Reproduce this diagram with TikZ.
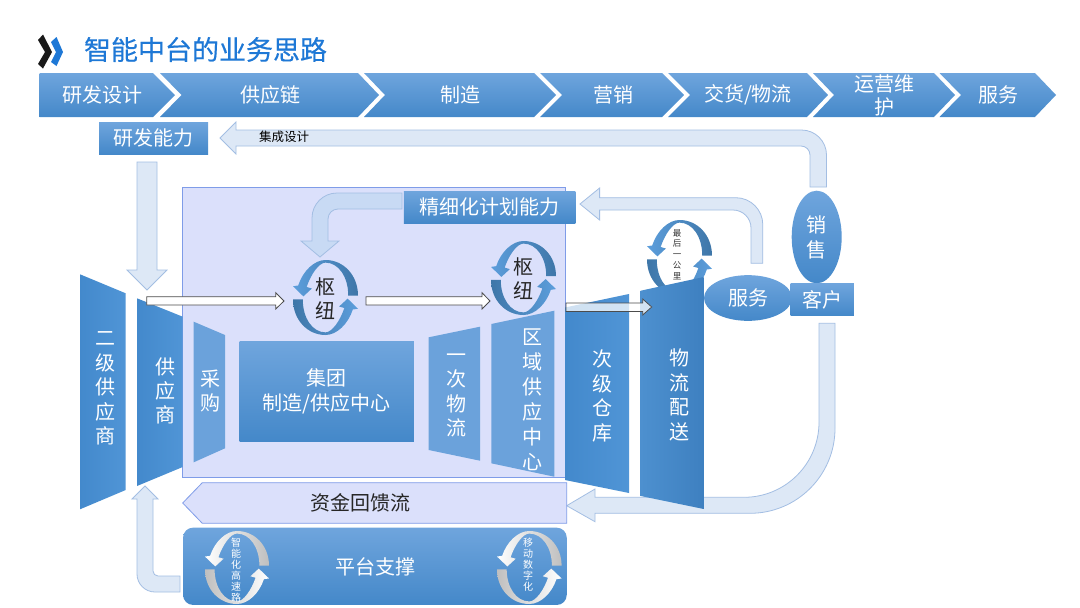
\documentclass[tikz,border=0pt]{standalone}
\usepackage{fontspec}
\setmainfont{Noto Sans CJK SC}
\newfontfamily\titlefont[FakeBold=0.35]{Noto Sans CJK SC}
\usetikzlibrary{shapes.geometric, positioning}

\definecolor{bandtop}{HTML}{6FA5DD}
\definecolor{bandbot}{HTML}{4488C9}
\definecolor{trapleft}{HTML}{4389CC}
\definecolor{trapright}{HTML}{5095D6}
\definecolor{darkleft}{HTML}{4D90CF}
\definecolor{darkright}{HTML}{3E80C0}
\definecolor{panelfill}{HTML}{DBE0FB}
\definecolor{panelline}{HTML}{7F9CE8}
\definecolor{flowfill}{HTML}{DDE8F6}
\definecolor{flowline}{HTML}{A3BEE3}
\definecolor{planfill}{HTML}{C8DAF4}
\definecolor{ringdark}{HTML}{3E76A8}
\definecolor{ringlight}{HTML}{5C9EDC}
\definecolor{titleblue}{HTML}{1E78D6}

% two arcs chasing each other: cx, cy, rx, ry, tail colour, head colour
\newcommand{\hubring}[6]{%
  \begin{scope}[shift={(#1,#2)},x=#3pt,y=#4pt]
    \path[left color=#6,right color=#5]
      (1,0.05) .. controls (1,0.6) and (0.55,1) .. (0,1)
      .. controls (-0.35,1) and (-0.7,0.7) .. (-0.84,0.32)
      -- (-1,0.3) -- (-0.68,0.03) -- (-0.42,0.24) -- (-0.58,0.28)
      .. controls (-0.45,0.62) and (-0.2,0.93) .. (0,0.93)
      .. controls (0.4,0.93) and (0.7,0.55) .. (0.7,0.05) -- cycle;
    \path[left color=#5,right color=#6]
      (-1,-0.05) .. controls (-1,-0.6) and (-0.55,-1) .. (0,-1)
      .. controls (0.35,-1) and (0.7,-0.7) .. (0.84,-0.32)
      -- (1,-0.3) -- (0.68,-0.03) -- (0.42,-0.24) -- (0.58,-0.28)
      .. controls (0.45,-0.62) and (0.2,-0.93) .. (0,-0.93)
      .. controls (-0.4,-0.93) and (-0.7,-0.55) .. (-0.7,-0.05) -- cycle;
  \end{scope}}

\begin{document}
\begin{tikzpicture}[
  x=1pt, y=-1pt,
  every node/.style={inner sep=0pt, outer sep=0pt},
  bandshape/.style={top color=bandtop, bottom color=bandbot},
  whitetext/.style={text=white, font=\fontsize{20}{24.5}\selectfont, align=center},
  blacktext/.style={text=black!85, font=\fontsize{20}{24}\selectfont, align=center},
  boxnode/.style={rectangle, top color=bandtop, bottom color=bandbot, whitetext},
  ovalnode/.style={ellipse, top color=bandtop, bottom color=bandbot, whitetext},
  trapdark/.style={left color=darkleft, right color=darkright},
  trapmid/.style={left color=trapleft, right color=trapright},
  traplight/.style={fill=bandtop!90!bandbot},
  flowarrow/.style={fill=flowfill, draw=flowline, line width=0.8pt},
  hollowarrow/.style={fill=white, draw=black!70, line width=0.8pt}
]
\useasboundingbox (0,0) rectangle (1080,608);
\fill[white] (0,0) rectangle (1080,608);

% title
\fill[black!90] (38,40) -- (43,34.5) -- (52,52) -- (43,68.5) -- (38,64) -- (45,52) -- cycle;
\fill[titleblue] (51,42) -- (56.5,37) -- (63,52) -- (56.5,66) -- (51,62) -- (56,52) -- cycle;
\node[anchor=west, text=titleblue, font=\titlefont\fontsize{27}{30}\selectfont] (title) at (84,49.5) {智能中台的业务思路};

% value chain band
\path[bandshape] (39.6,73) -- (153,73) -- (175,95) -- (153,117) -- (39.6,117) -- cycle;
\foreach \xa/\xb/\xc/\xd in {160/181.5/358/379, 364/385/534/556, 540/562/662/684,
    668/690/807/828, 813/834/934/955, 939.5/961/1035/1056}
  \path[bandshape] (\xa,73) -- (\xc,73) -- (\xd,95) -- (\xc,117) -- (\xa,117) -- (\xb,95) -- cycle;

\node[whitetext] (yanfa)   at (102,95)  {研发设计};
\node[whitetext] (gongying) at (270,95) {供应链};
\node[whitetext] (zhizao)  at (460,95)  {制造};
\node[whitetext] (yingxiao) at (613,95) {营销};
\node[whitetext] (jiaohuo) at (748,95)  {交货/物流};
\node[whitetext, font=\fontsize{20}{23}\selectfont] (yunying) at (884,95) {运营维\\护};
\node[whitetext] (fuwuband) at (998,95) {服务};

% wide flow arrows behind the panel
\draw[flowarrow] (220,138) -- (236,122) -- (236,130) [rounded corners=25pt] -- (826.5,130) [sharp corners] -- (826.5,187)
  -- (810,187) [rounded corners=9pt] -- (810,146) [sharp corners] -- (236,146) -- (236,154) -- cycle;
\draw[flowarrow] (137,162) -- (157,162) -- (157,270) -- (167,270) -- (147,290) -- (127,270) -- (137,270) -- cycle;
\draw[flowarrow] (145,486) -- (158,499) -- (153,499) [rounded corners=5pt] -- (153,576) [sharp corners] -- (180,576)
  -- (180,592) [rounded corners=18pt] -- (137,592) [sharp corners] -- (137,499) -- (132,499) -- cycle;

\node[boxnode, minimum width=109pt, minimum height=32pt] (yanfaneng) at (153.5,138) {研发能力};
\node[text=black, font=\fontsize{12.5}{14}\selectfont] (jicheng) at (284,137) {集成设计};

% central panel
\draw[fill=panelfill, draw=panelline, line width=0.8pt] (182.5,187) rectangle (565,477);

\draw[fill=planfill, draw=flowline, line width=0.8pt] (402,193) [rounded corners=25pt] -- (312,193) [sharp corners] -- (312,241)
  -- (301,241) -- (320,257) -- (339,241) -- (328,241) [rounded corners=10pt] -- (328,209) [sharp corners] -- (402,209) -- cycle;
\draw[flowarrow] (580,204) -- (599.6,188) -- (599.6,197.7) [rounded corners=27pt] -- (762.8,197.7) [sharp corners] -- (762.8,263.3)
  -- (751,263.3) [rounded corners=18pt] -- (751,210) [sharp corners] -- (599.6,210) -- (599.6,220) -- cycle;
\draw[flowarrow] (566.7,505.7) -- (595,489) -- (595,497.3) [rounded corners=75pt] -- (819,497.3) [sharp corners] -- (819,323.3)
  -- (835,323.3) [rounded corners=85pt] -- (835,513.3) [sharp corners] -- (595,513.3) -- (595,521.7) -- cycle;

\node[boxnode, minimum width=171.5pt, minimum height=32pt] (jingxi) at (489.7,207) {精细化计划能力};

% rings
\hubring{325.5}{297.5}{32.5}{37.5}{ringdark}{ringlight}
\hubring{523.5}{278}{32.5}{37}{ringdark}{ringlight}
\hubring{679.5}{257.5}{32.5}{37.5}{ringdark}{ringlight}
\node[blacktext] (shuniua) at (325,299) {枢\\纽};
\node[blacktext] (shuniub) at (523,279) {枢\\纽};
\node[text=black!80, align=center, font=\fontsize{8.5}{10.8}\selectfont] (zuihou) at (677,254.5) {最\\后\\一\\公\\里};

% supply chain blocks
\path[trapmid] (80,274.3) -- (125.7,293.3) -- (125.7,490) -- (80,509.3) -- cycle;
\node[whitetext] (erji) at (105.7,388.7) {二\\级\\供\\应\\商};
\path[trapmid] (137,298.3) -- (182.7,316.7) -- (182.7,467) -- (137,486) -- cycle;
\node[whitetext, font=\fontsize{20}{24}\selectfont] (gongyingshang) at (165.7,391) {供\\应\\商};
\path[traplight] (193.7,321.7) -- (225,335) -- (225,448.3) -- (193.7,462.3) -- cycle;
\node[whitetext, font=\fontsize{20}{24}\selectfont] (caigou) at (210,391.5) {采\\购};
\node[boxnode, minimum width=174.3pt, minimum height=99.7pt, font=\fontsize{20}{25}\selectfont] (jituan) at (326.8,391.8) {集团\\制造/供应中心};
\path[traplight] (428.7,337.3) -- (480,326.7) -- (480,460.7) -- (428.7,450) -- cycle;
\node[whitetext] (yici) at (456,395.7) {一\\次\\物\\流};
\path[traplight] (491.3,324) -- (554.3,310.7) -- (554.3,476.7) -- (491.3,463.3) -- cycle;
\node[whitetext, font=\fontsize{20}{25}\selectfont] (quyu) at (532,399.5) {区\\域\\供\\应\\中\\心};
\path[trapmid] (565,307.5) -- (629,294) -- (629,493) -- (565,480) -- cycle;
\node[whitetext] (ciji) at (602,396) {次\\级\\仓\\库};
\path[trapdark] (640.7,290.7) -- (703.7,277) -- (703.7,509) -- (640.7,496) -- cycle;
\node[whitetext] (wuliu) at (679,395) {物\\流\\配\\送};

% hollow arrows
\draw[hollowarrow] (146.7,296.7) -- (275.7,296.7) -- (275.7,292.7) -- (284,301) -- (275.7,309) -- (275.7,305) -- (146.7,305) -- cycle;
\draw[hollowarrow] (366,296.7) -- (482,296.7) -- (482,292.7) -- (490,301) -- (482,309) -- (482,305) -- (366,305) -- cycle;
\draw[hollowarrow, fill opacity=0.75] (566,303) -- (642.7,303) -- (642.7,299) -- (651.7,307) -- (642.7,315) -- (642.7,311.5) -- (566,311.5) -- cycle;

% customer side
\node[ovalnode, minimum width=50pt, minimum height=92.6pt, font=\fontsize{20}{25}\selectfont] (xiaoshou) at (816.7,237) {销\\售};
\node[ovalnode, minimum width=88pt, minimum height=45.7pt] (fuwu) at (748,298) {服务};
\node[boxnode, minimum width=63.3pt, minimum height=32.4pt] (kehu) at (822.3,299.5) {客户};

% funds and platform
\draw[fill=panelfill, draw=panelline, line width=0.8pt] (182.7,503) -- (202.3,482.7) -- (566.7,482.7) -- (566.7,523.3) -- (202.3,523.3) -- cycle;
\node[blacktext] (zijin) at (360,503) {资金回馈流};

\node[boxnode, rounded corners=10pt, minimum width=383.7pt, minimum height=77.3pt] (pingtai) at (374.9,566.3) {};
\node[whitetext] (pingtaitext) at (375,566.5) {平台支撑};
\hubring{237}{567.5}{32}{36.5}{black!25}{white}
\hubring{529.3}{567.5}{32.3}{36.5}{black!25}{white}
\node[whitetext, font=\fontsize{10}{11}\selectfont] (zhineng) at (236,570) {智\\能\\化\\高\\速\\路};
\node[whitetext, font=\fontsize{10}{11}\selectfont] (yidong) at (528,565) {移\\动\\数\\字\\化};
\end{tikzpicture}
\end{document}
